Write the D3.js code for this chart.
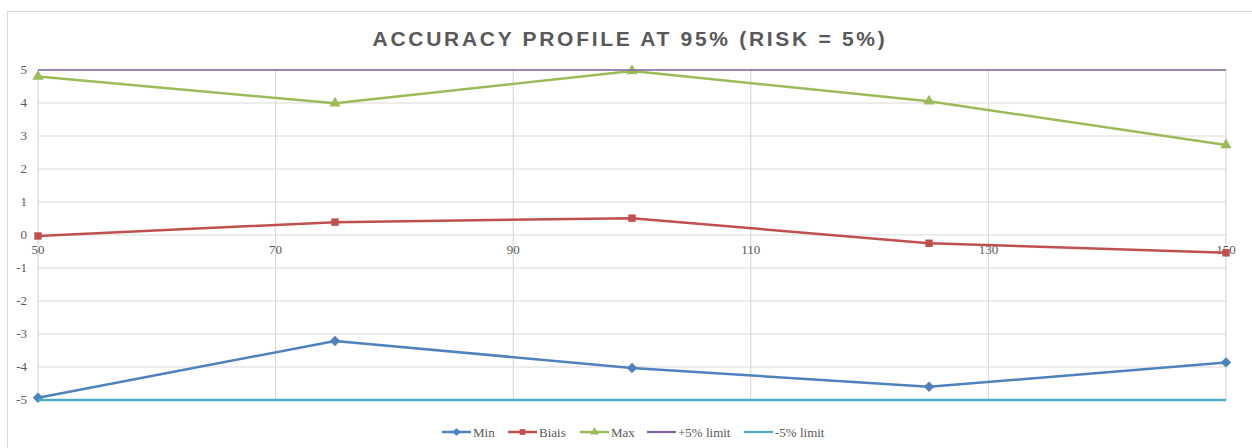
<!DOCTYPE html>
<html>
<head>
<meta charset="utf-8">
<script src="https://cdn.jsdelivr.net/npm/d3@7"></script>
<style>
  body { margin: 0; background: #fff; }
  svg { display: block; }
</style>
</head>
<body>
<div id="chart"></div>
<script>
// data
const xValues = [50, 75, 100, 125, 150];
const minValues = [-4.93, -3.21, -4.03, -4.6, -3.86];
const biasValues = [-0.03, 0.39, 0.51, -0.25, -0.54];
const maxValues = [4.8, 3.99, 4.97, 4.05, 2.73];
const upperLimit = [5, 5, 5, 5, 5];
const lowerLimit = [-5, -5, -5, -5, -5];
const xTicks = [50, 70, 90, 110, 130, 150];
const yTicks = [-5, -4, -3, -2, -1, 0, 1, 2, 3, 4, 5];
const seriesNames = ["Min", "Biais", "Max", "+5% limit", "-5% limit"];

const width = 1252, height = 448;
const margin = { top: 70, right: 26, bottom: 48, left: 38 };

const x = d3.scaleLinear().domain([50, 150]).range([margin.left, width - margin.right]);
const y = d3.scaleLinear().domain([-5, 5]).range([height - margin.bottom, margin.top]);

const svg = d3.select("#chart").append("svg")
  .attr("width", width)
  .attr("height", height);

// chart frame
svg.append("rect")
  .attr("x", 7.5).attr("y", 11.5)
  .attr("width", width - 7).attr("height", height - 11)
  .attr("fill", "#fff").attr("stroke", "#d9d9d9");

// title
svg.append("text")
  .attr("x", 630).attr("y", 46)
  .attr("text-anchor", "middle")
  .attr("font-family", "Liberation Sans, Arial, sans-serif")
  .attr("font-weight", "bold")
  .attr("font-size", 21)
  .attr("letter-spacing", 2.7)
  .attr("fill", "#595959")
  .text("ACCURACY PROFILE AT 95% (RISK = 5%)");

// gridlines
svg.append("g")
  .selectAll("line")
  .data(yTicks)
  .join("line")
  .attr("x1", x(50)).attr("x2", x(150))
  .attr("y1", (d) => y(d)).attr("y2", (d) => y(d))
  .attr("stroke", "#d9d9d9").attr("stroke-width", 1.2);

svg.append("g")
  .selectAll("line")
  .data(xTicks)
  .join("line")
  .attr("x1", (d) => x(d)).attr("x2", (d) => x(d))
  .attr("y1", y(5)).attr("y2", y(-5))
  .attr("stroke", "#d9d9d9").attr("stroke-width", 1.2);

// y axis labels
const axisFont = "Liberation Serif, Times New Roman, serif";
svg.append("g")
  .selectAll("text")
  .data(yTicks)
  .join("text")
  .attr("x", 27).attr("y", (d) => y(d) + 4)
  .attr("text-anchor", "end")
  .attr("font-family", axisFont)
  .attr("font-size", 13)
  .attr("fill", "#595959")
  .text((d) => d);

// x axis labels (axis crosses at 0)
svg.append("g")
  .selectAll("text")
  .data(xTicks)
  .join("text")
  .attr("x", (d) => x(d)).attr("y", y(0) + 19)
  .attr("text-anchor", "middle")
  .attr("font-family", axisFont)
  .attr("font-size", 13)
  .attr("fill", "#595959")
  .text((d) => d);

// excel-like diamond: a square turned 45 degrees
const squareDiamond = {
  draw(context, size) {
    const r = Math.sqrt(size / 2);
    context.moveTo(0, -r);
    context.lineTo(r, 0);
    context.lineTo(0, r);
    context.lineTo(-r, 0);
    context.closePath();
  },
};

const series = [
  { name: seriesNames[0], values: minValues, color: "#4f81bd", width: 2.5, symbol: squareDiamond, size: 55 },
  { name: seriesNames[1], values: biasValues, color: "#c0504d", width: 2.5, symbol: d3.symbolSquare, size: 55 },
  { name: seriesNames[2], values: maxValues, color: "#9bbb59", width: 2.5, symbol: d3.symbolTriangle, size: 55 },
  { name: seriesNames[3], values: upperLimit, color: "#8064a2", width: 1.6, symbol: null },
  { name: seriesNames[4], values: lowerLimit, color: "#4bacc6", width: 2.6, symbol: null },
];

const line = d3.line()
  .x((d) => x(d[0]))
  .y((d) => y(d[1]));

series.forEach((s) => {
  const pts = xValues.map((v, j) => [v, s.values[j]]);
  svg.append("path")
    .datum(pts)
    .attr("d", line)
    .attr("fill", "none")
    .attr("stroke", s.color)
    .attr("stroke-width", s.width)
    .attr("stroke-linejoin", "round");
  if (s.symbol) {
    svg.append("g")
      .selectAll("path")
      .data(pts)
      .join("path")
      .attr("transform", (d) => `translate(${x(d[0])},${y(d[1])})`)
      .attr("d", d3.symbol().type(s.symbol).size(s.size))
      .attr("fill", s.color);
  }
});

// legend
const legendX = [442, 508, 580, 647, 744];
const legendY = 432;
const legend = svg.append("g");
series.forEach((s, i) => {
  const g = legend.append("g").attr("transform", `translate(${legendX[i]},${legendY})`);
  g.append("line")
    .attr("x1", 0).attr("x2", 29)
    .attr("y1", 0).attr("y2", 0)
    .attr("stroke", s.color)
    .attr("stroke-width", s.symbol ? 2.5 : 2.2);
  if (s.symbol) {
    g.append("path")
      .attr("transform", "translate(14.5,0)")
      .attr("d", d3.symbol().type(s.symbol).size(s.size * 0.6))
      .attr("fill", s.color);
  }
  g.append("text")
    .attr("x", 31).attr("y", 4.5)
    .attr("font-family", axisFont)
    .attr("font-size", 13)
    .attr("fill", "#595959")
    .text(s.name);
});
</script>
</body>
</html>
